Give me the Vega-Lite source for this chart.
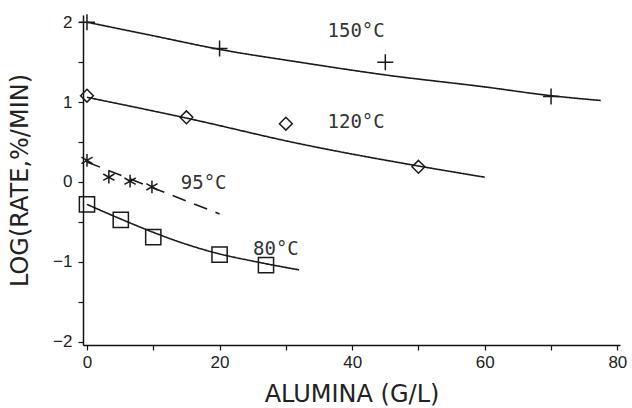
{
  "$schema": "https://vega.github.io/schema/vega-lite/v6.json",
  "width": 537,
  "height": 330,
  "autosize": "none",
  "padding": {"left": 83, "top": 15, "right": 12, "bottom": 63},
  "background": "white",
  "config": {
    "view": {"stroke": null},
    "axis": {
      "grid": false,
      "domainColor": "#111",
      "domainWidth": 1.5,
      "tickColor": "#111",
      "tickWidth": 1.2,
      "labelColor": "#222",
      "labelFont": "Liberation Sans",
      "labelFontSize": 17,
      "titleFont": "DejaVu Sans",
      "titleFontSize": 24,
      "titleFontWeight": "normal",
      "titleColor": "#222"
    }
  },
  "datasets": {
    "points": [
      {"series": "150", "x": 0, "y": 2.0},
      {"series": "150", "x": 20, "y": 1.67},
      {"series": "150", "x": 45, "y": 1.5},
      {"series": "150", "x": 70, "y": 1.07},
      {"series": "120", "x": 0, "y": 1.08},
      {"series": "120", "x": 15, "y": 0.81},
      {"series": "120", "x": 30, "y": 0.73},
      {"series": "120", "x": 50, "y": 0.19},
      {"series": "95", "x": 0, "y": 0.27},
      {"series": "95", "x": 3.3, "y": 0.06},
      {"series": "95", "x": 6.5, "y": 0.01},
      {"series": "95", "x": 9.8, "y": -0.06},
      {"series": "80", "x": 0, "y": -0.28},
      {"series": "80", "x": 5.1, "y": -0.475},
      {"series": "80", "x": 10, "y": -0.69},
      {"series": "80", "x": 20, "y": -0.91},
      {"series": "80", "x": 27, "y": -1.04}
    ],
    "curves": [
      {"series": "150", "x": 0, "y": 2.0},
      {"series": "150", "x": 10, "y": 1.83},
      {"series": "150", "x": 20, "y": 1.66},
      {"series": "150", "x": 32, "y": 1.5},
      {"series": "150", "x": 45, "y": 1.34},
      {"series": "150", "x": 60, "y": 1.19},
      {"series": "150", "x": 70, "y": 1.08},
      {"series": "150", "x": 77.5, "y": 1.02},
      {"series": "120", "x": 0, "y": 1.06},
      {"series": "120", "x": 15, "y": 0.8},
      {"series": "120", "x": 32, "y": 0.48},
      {"series": "120", "x": 50, "y": 0.2},
      {"series": "120", "x": 60, "y": 0.06},
      {"series": "95", "x": 0, "y": 0.25},
      {"series": "95", "x": 20, "y": -0.4},
      {"series": "80", "x": 0, "y": -0.28},
      {"series": "80", "x": 5, "y": -0.46},
      {"series": "80", "x": 10, "y": -0.63},
      {"series": "80", "x": 15, "y": -0.78},
      {"series": "80", "x": 20, "y": -0.9},
      {"series": "80", "x": 25, "y": -0.99},
      {"series": "80", "x": 32, "y": -1.1}
    ],
    "labels": [
      {"x": 40.6, "y": 1.89, "text": "150°C"},
      {"x": 40.6, "y": 0.75, "text": "120°C"},
      {"x": 17.6, "y": -0.01, "text": "95°C"},
      {"x": 28.5, "y": -0.84, "text": "80°C"}
    ]
  },
  "layer": [
    {
      "data": {"name": "curves"},
      "mark": {"type": "line", "interpolate": "monotone", "color": "#1a1a1a", "strokeWidth": 1.6},
      "encoding": {
        "x": {
          "field": "x", "type": "quantitative",
          "scale": {"domain": [-0.6, 80.4], "nice": false, "zero": false},
          "axis": {
            "title": "ALUMINA (G/L)",
            "values": [0, 10, 20, 30, 40, 50, 60, 70, 80],
            "labelExpr": "datum.value % 20 === 0 ? format(datum.value, 'd') : ''",
            "tickSize": 5,
            "labelPadding": 4,
            "titlePadding": 12
          }
        },
        "y": {
          "field": "y", "type": "quantitative",
          "scale": {"domain": [-2.04, 2.09], "nice": false, "zero": false},
          "axis": {
            "title": "LOG(RATE,%/MIN)",
            "values": [-2, -1.5, -1, -0.5, 0, 0.5, 1, 1.5, 2],
            "labelExpr": "datum.value % 1 === 0 ? format(datum.value, 'd') : ''",
            "tickSize": 5,
            "labelPadding": 6,
            "titlePadding": 20
          }
        },
        "detail": {"field": "series"},
        "strokeDash": {
          "field": "series", "type": "nominal",
          "scale": {"domain": ["150", "120", "95", "80"], "range": [[1, 0], [1, 0], [14, 9], [1, 0]]},
          "legend": null
        }
      }
    },
    {
      "data": {"name": "points"},
      "mark": {"type": "point", "filled": false, "stroke": "#1a1a1a", "strokeWidth": 1.5, "size": 256, "opacity": 1},
      "encoding": {
        "x": {"field": "x", "type": "quantitative"},
        "y": {"field": "y", "type": "quantitative"},
        "shape": {
          "field": "series", "type": "nominal",
          "scale": {
            "domain": ["150", "120", "95", "80"],
            "range": [
              "M-1,0L1,0M0,-1L0,1",
              "M0,-0.8L0.8,0L0,0.8L-0.8,0Z",
              "M0,-0.8L0,0.8M-0.7,-0.4L0.7,0.4M-0.7,0.4L0.7,-0.4",
              "M-0.95,-0.95L0.95,-0.95L0.95,0.95L-0.95,0.95Z"
            ]
          },
          "legend": null
        }
      }
    },
    {
      "data": {"name": "labels"},
      "mark": {"type": "text", "font": "DejaVu Sans Mono", "fontSize": 19, "color": "#333", "align": "center", "baseline": "middle"},
      "encoding": {
        "x": {"field": "x", "type": "quantitative"},
        "y": {"field": "y", "type": "quantitative"},
        "text": {"field": "text"}
      }
    }
  ]
}
